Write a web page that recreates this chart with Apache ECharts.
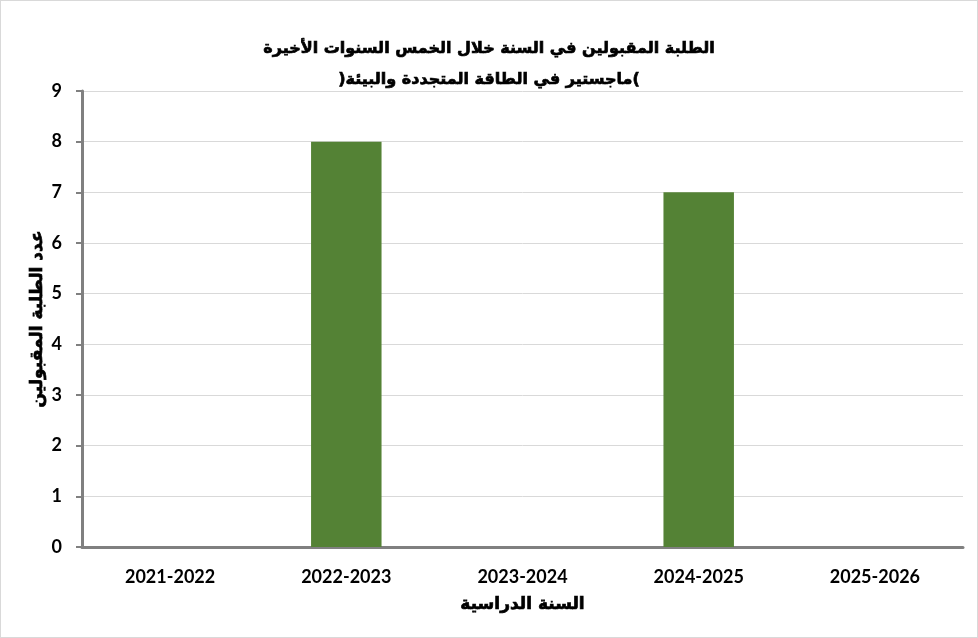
<!DOCTYPE html>
<html><head><meta charset="utf-8">
<script src="https://cdn.jsdelivr.net/npm/echarts@6/dist/echarts.min.js"></script>
<style>
html,body{margin:0;padding:0;background:#fff;}
#c{width:978px;height:638px;box-sizing:border-box;border:1px solid #d9d9d9;}
</style></head>
<body><div id="c"></div>
<script>
const titleLines = ['الطلبة المقبولين في السنة خلال الخمس السنوات الأخيرة', ')ماجستير في الطاقة المتجددة والبيئة('];
const categories = ['2021-2022', '2022-2023', '2023-2024', '2024-2025', '2025-2026'];
const admitted = [0, 8, 0, 7, 0];
const xName = 'السنة الدراسية';
const yName = 'عدد الطلبة المقبولين';

const arabicBold = {fontFamily: 'DejaVu Sans', fontWeight: 'bold', color: '#000', textBorderColor: '#000', textBorderWidth: 0.7};

const chart = echarts.init(document.getElementById('c'), null, {renderer: 'canvas'});
chart.setOption({
  animation: false,
  title: {
    text: titleLines.join('\n'),
    left: 'center',
    top: 27,
    textStyle: Object.assign({fontSize: 16, lineHeight: 31}, arabicBold)
  },
  grid: {left: 81, right: 14, top: 90, bottom: 90, containLabel: false},
  xAxis: {
    type: 'category',
    data: categories,
    name: xName,
    nameLocation: 'middle',
    nameGap: 49,
    nameMoveOverlap: false,
    nameTextStyle: Object.assign({fontSize: 17}, arabicBold),
    axisLine: {lineStyle: {color: '#808080', width: 3}},
    axisTick: {show: false},
    axisLabel: {margin: 21, fontFamily: 'Lato', fontWeight: 'bold', fontSize: 18, color: '#000'}
  },
  yAxis: {
    type: 'value',
    min: 0, max: 9, interval: 1,
    name: yName,
    nameLocation: 'middle',
    nameGap: 36,
    nameMoveOverlap: false,
    nameTextStyle: Object.assign({fontSize: 17}, arabicBold),
    axisLine: {show: true, lineStyle: {color: '#808080', width: 3}},
    axisTick: {show: true, length: 6, lineStyle: {color: '#808080', width: 2}},
    axisLabel: {margin: 20, fontFamily: 'Lato', fontWeight: 'bold', fontSize: 18, color: '#000'},
    splitLine: {lineStyle: {color: '#d9d9d9', width: 1}}
  },
  series: [{
    type: 'bar',
    data: admitted,
    barWidth: '40%',
    itemStyle: {color: '#548235'}
  }]
});
</script></body></html>
